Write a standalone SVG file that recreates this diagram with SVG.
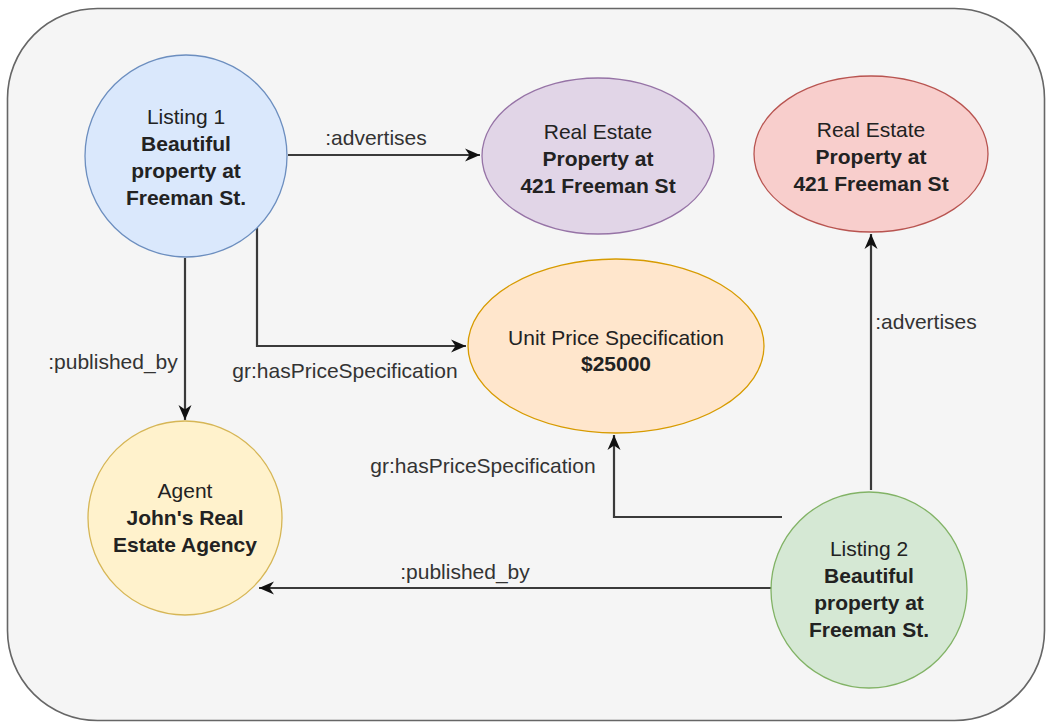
<svg xmlns="http://www.w3.org/2000/svg" width="1048" height="723" viewBox="0 0 1048 723">
<style>
text{font-family:"Liberation Sans",Arial,sans-serif;font-size:21px;fill:#222;text-anchor:middle}
.b{font-weight:bold}
.lbl{font-size:21px;fill:#333}
.edge{fill:none;stroke:#3a3a3a;stroke-width:2.2}
.node{stroke-width:1.3}
</style>
<defs>
<marker id="arr" markerUnits="userSpaceOnUse" markerWidth="18" markerHeight="16" refX="15" refY="8" orient="auto">
<path d="M0,1.5 L15,8 L0,14.5 L4.5,8 Z" fill="#111"/>
</marker>
</defs>
<rect width="1048" height="723" fill="#ffffff"/>
<rect id="container" x="7.5" y="8.5" width="1037" height="712" rx="90" ry="90" fill="#f5f5f5" stroke="#666666" stroke-width="1.6"/>
<g id="connectors">
<path class="edge" d="M288,155 H480" marker-end="url(#arr)"/>
<path class="edge" d="M185,258 V420" marker-end="url(#arr)"/>
<path class="edge" d="M257,228 V346 H466" marker-end="url(#arr)"/>
<path class="edge" d="M782,517 H614 V435" marker-end="url(#arr)"/>
<path class="edge" d="M871,490 V234" marker-end="url(#arr)"/>
<path class="edge" d="M772,588 H259" marker-end="url(#arr)"/>
<text class="lbl" x="376" y="145">:advertises</text>
<text class="lbl" x="113" y="369">:published_by</text>
<text class="lbl" x="345" y="378">gr:hasPriceSpecification</text>
<text class="lbl" x="483" y="473">gr:hasPriceSpecification</text>
<text class="lbl" x="465" y="579">:published_by</text>
<text class="lbl" x="926" y="329">:advertises</text>
</g>
<g id="listing1">
<circle class="node" cx="186" cy="156" r="101" fill="#dae8fc" stroke="#6c8ebf"/>
<text x="186" y="124">Listing 1</text>
<text class="b" x="186" y="151">Beautiful</text>
<text class="b" x="186" y="178">property at</text>
<text class="b" x="186" y="205">Freeman St.</text>
</g>
<g id="realestate1">
<ellipse class="node" cx="598" cy="156" rx="116" ry="78" fill="#e1d5e7" stroke="#9673a6"/>
<text x="598" y="139">Real Estate</text>
<text class="b" x="598" y="166">Property at</text>
<text class="b" x="598" y="193">421 Freeman St</text>
</g>
<g id="realestate2">
<ellipse class="node" cx="871" cy="154" rx="117" ry="78" fill="#f8cecc" stroke="#b85450"/>
<text x="871" y="137">Real Estate</text>
<text class="b" x="871" y="164">Property at</text>
<text class="b" x="871" y="191">421 Freeman St</text>
</g>
<g id="unitprice">
<ellipse class="node" cx="616" cy="346" rx="148" ry="87" fill="#ffe6cc" stroke="#d79b00"/>
<text x="616" y="345">Unit Price Specification</text>
<text class="b" x="616" y="371">$25000</text>
</g>
<g id="agent">
<circle class="node" cx="185" cy="518" r="97" fill="#fff2cc" stroke="#d6b656"/>
<text x="185" y="498">Agent</text>
<text class="b" x="185" y="525">John's Real</text>
<text class="b" x="185" y="552">Estate Agency</text>
</g>
<g id="listing2">
<circle class="node" cx="869" cy="590" r="98" fill="#d5e8d4" stroke="#82b366"/>
<text x="869" y="556">Listing 2</text>
<text class="b" x="869" y="583">Beautiful</text>
<text class="b" x="869" y="610">property at</text>
<text class="b" x="869" y="637">Freeman St.</text>
</g>
</svg>
